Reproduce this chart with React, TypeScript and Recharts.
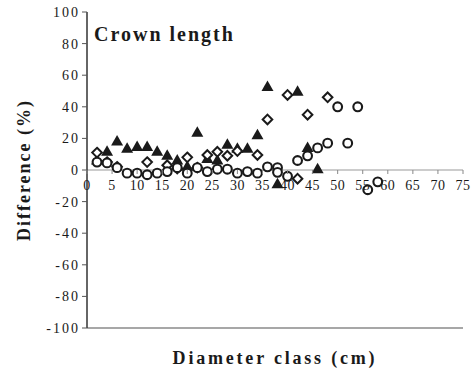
import React from 'react';
import {
  ScatterChart,
  Scatter,
  XAxis,
  YAxis,
  ReferenceLine,
  Customized,
} from 'recharts';

// Diameter class (cm) vs. difference (%) for three estimates
const triangleX = [2, 4, 6, 8, 10, 12, 14, 16, 18, 20, 22, 24, 26, 28, 30, 32, 34, 36, 38, 42, 44, 46];
const triangleY = [6, 11.5, 18, 13.5, 14.5, 14.5, 11.5, 9, 6, 2, 23.5, 7, 6, 16, 13.5, 13.5, 22, 52.5, -9, 49.5, 14, 0.5];

const diamondX = [2, 4, 6, 12, 16, 18, 20, 22, 24, 26, 28, 30, 34, 36, 40, 42, 44, 48];
const diamondY = [11, 5, 2, 5, 3, 1, 8, 1.5, 9.5, 11.5, 9, 12, 9.5, 32, 47.5, -5.5, 35, 46];

const circleX = [2, 4, 6, 8, 10, 12, 14, 16, 18, 20, 22, 24, 26, 28, 30, 32, 34, 36, 38, 38, 40, 42, 44, 46, 48, 50, 52, 54, 56, 58];
const circleY = [5, 4.5, 1.5, -2, -2, -3, -2, -1, 1.5, -2, 1.5, -1, 0.5, 0.5, -2, -1, -2, 2, 1.5, -1.5, -4, 6, 9, 14, 17, 40, 17, 40, -12.5, -7.5];

const xTicks = [0, 5, 10, 15, 20, 25, 30, 35, 40, 45, 50, 55, 60, 65, 70, 75];
const yTicks = [-100, -80, -60, -40, -20, 0, 20, 40, 60, 80, 100];

const toPoints = (xs: number[], ys: number[]) => xs.map((x, i) => ({ x, y: ys[i] }));
const triangles = toPoints(triangleX, triangleY);
const diamonds = toPoints(diamondX, diamondY);
const circles = toPoints(circleX, circleY);

const W = 474;
const H = 377;
const MARGIN = { top: 12, right: 11, bottom: 0, left: 0 };
const Y_AXIS_W = 87;
const X_AXIS_H = 49;
const PLOT_H = H - MARGIN.top - MARGIN.bottom - X_AXIS_H;
const FONT = "'Liberation Serif', 'Times New Roman', serif";
const INK = '#1a1a1a';

// x tick labels sit along the zero line (middle of the symmetric y range)
const ZeroLineTick = (props: any) => {
  const { x, y, payload } = props;
  const y0 = y - PLOT_H / 2;
  return (
    <g>
      <line x1={x} x2={x} y1={y0} y2={y0 + 4} stroke="#888" strokeWidth={1} />
      <text
        x={x}
        y={y0 + 20}
        textAnchor="middle"
        style={{ fontFamily: FONT, fontSize: 14, letterSpacing: 0.5 }}
        fill={INK}
      >
        {payload.value}
      </text>
    </g>
  );
};

const YTick = (props: any) => {
  const { x, y, payload } = props;
  return (
    <text
      x={x}
      y={y}
      dy={5}
      textAnchor="end"
      style={{ fontFamily: FONT, fontSize: 14, letterSpacing: 2 }}
      fill={INK}
    >
      {payload.value}
    </text>
  );
};

const Triangle = (props: any) => {
  const { cx, cy } = props;
  if (cx == null || cy == null) return null;
  return <path d={`M${cx},${cy - 6.5} L${cx + 6},${cy + 4} L${cx - 6},${cy + 4} Z`} fill={INK} />;
};

const Diamond = (props: any) => {
  const { cx, cy } = props;
  if (cx == null || cy == null) return null;
  const r = 4.8;
  return (
    <path
      d={`M${cx},${cy - r} L${cx + r},${cy} L${cx},${cy + r} L${cx - r},${cy} Z`}
      fill="#fff"
      stroke={INK}
      strokeWidth={2}
    />
  );
};

const Ring = (props: any) => {
  const { cx, cy } = props;
  if (cx == null || cy == null) return null;
  return <circle cx={cx} cy={cy} r={4.4} fill="#fff" stroke={INK} strokeWidth={2.1} />;
};

const Title = (props: any) => {
  const off = props.offset || {};
  const left = off.left ?? Y_AXIS_W;
  const top = off.top ?? MARGIN.top;
  return (
    <text
      x={left + 7}
      y={top + 29}
      style={{ fontFamily: FONT, fontWeight: 'bold', fontSize: 20, letterSpacing: 2 }}
      fill={INK}
    >
      Crown length
    </text>
  );
};

const YTitle = (props: any) => {
  const vb = props.viewBox || { x: 0, y: MARGIN.top, width: Y_AXIS_W, height: PLOT_H };
  const cx = vb.x + 30;
  const cy = vb.y + vb.height / 2;
  return (
    <text
      x={cx}
      y={cy}
      transform={`rotate(-90, ${cx}, ${cy})`}
      textAnchor="middle"
      style={{ fontFamily: FONT, fontWeight: 'bold', fontSize: 18, letterSpacing: 2 }}
      fill={INK}
    >
      Difference (%)
    </text>
  );
};

const XTitle = (props: any) => {
  const vb = props.viewBox || { x: Y_AXIS_W, y: MARGIN.top + PLOT_H, width: 376, height: X_AXIS_H };
  const cx = vb.x + vb.width / 2;
  return (
    <text
      x={cx}
      y={vb.y + 36}
      textAnchor="middle"
      style={{ fontFamily: FONT, fontWeight: 'bold', fontSize: 18, letterSpacing: 2.8 }}
      fill={INK}
    >
      Diameter class (cm)
    </text>
  );
};

export default function App() {
  return (
    <div style={{ position: 'absolute', left: 0, top: 0, width: W, height: H, background: '#fff' }}>
      <ScatterChart width={W} height={H} margin={MARGIN}>
        <XAxis
          xAxisId="top"
          orientation="top"
          type="number"
          dataKey="x"
          domain={[0, 75]}
          height={0}
          tick={false}
          tickLine={false}
          axisLine={{ stroke: '#8a8a8a', strokeWidth: 1.5 }}
        />
        <XAxis
          type="number"
          dataKey="x"
          domain={[0, 75]}
          ticks={xTicks}
          interval={0}
          height={X_AXIS_H}
          tickSize={0}
          tickMargin={0}
          tickLine={false}
          tick={<ZeroLineTick />}
          axisLine={{ stroke: '#8a8a8a', strokeWidth: 1.5 }}
          label={<XTitle />}
        />
        <YAxis
          type="number"
          dataKey="y"
          domain={[-100, 100]}
          ticks={yTicks}
          interval={0}
          width={Y_AXIS_W}
          tickSize={5}
          tickMargin={2}
          tickLine={{ stroke: '#555' }}
          axisLine={{ stroke: '#333', strokeWidth: 1.5 }}
          tick={<YTick />}
          label={<YTitle />}
        />
        <YAxis
          yAxisId="right"
          orientation="right"
          type="number"
          domain={[-100, 100]}
          width={0}
          tick={false}
          tickLine={false}
          axisLine={{ stroke: '#8a8a8a', strokeWidth: 1.5 }}
        />
        <ReferenceLine y={0} stroke="#999" strokeWidth={1} />
        <Scatter data={triangles} shape={<Triangle />} isAnimationActive={false} />
        <Scatter data={diamonds} shape={<Diamond />} isAnimationActive={false} />
        <Scatter data={circles} shape={<Ring />} isAnimationActive={false} />
        <Customized component={Title} />
      </ScatterChart>
    </div>
  );
}
